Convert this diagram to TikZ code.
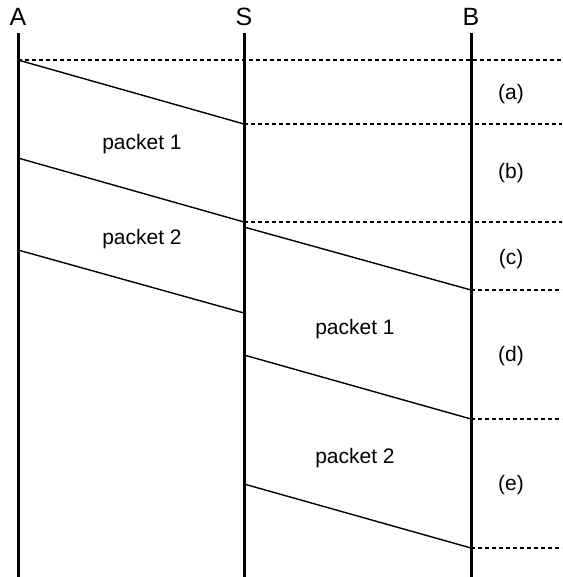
\documentclass[tikz,border=0pt]{standalone}
\usepackage{fontspec}
\setmainfont{Liberation Sans}
\usetikzlibrary{positioning}
\tikzset{
  lifeline/.style={line width=3pt},
  pktline/.style={line width=1.4pt},
  slotline/.style={line width=1.4pt, dash pattern=on 4pt off 3pt},
  hostlbl/.style={font=\fontsize{25}{29}\selectfont, inner sep=0pt, anchor=base},
  pktlbl/.style={font=\fontsize{21}{25}\selectfont, inner sep=0pt, anchor=base},
  slotlbl/.style={font=\fontsize{21}{25}\selectfont, inner sep=0pt}
}
\begin{document}
\begin{tikzpicture}[x=1pt,y=-1pt]
    \useasboundingbox (0,0) rectangle (562,577);

    % Hosts
    \node[hostlbl] (A) at (18,26) {A};
    \node[hostlbl] (S) at (244,26) {S};
    \node[hostlbl] (B) at (471,26) {B};

    \coordinate (Atop) at (18,33);  \coordinate (Abot) at (18,577);
    \coordinate (Stop) at (244,33); \coordinate (Sbot) at (244,577);
    \coordinate (Btop) at (471,33); \coordinate (Bbot) at (471,577);
    \draw[lifeline] (Atop) -- (Abot);
    \draw[lifeline] (Stop) -- (Sbot);
    \draw[lifeline] (Btop) -- (Bbot);

    % Time slots
    \coordinate (t0) at (18,60);   \coordinate (e0) at (562,60);
    \coordinate (t1) at (244,124); \coordinate (e1) at (562,124);
    \coordinate (t2) at (244,222); \coordinate (e2) at (562,222);
    \coordinate (t3) at (471,290); \coordinate (e3) at (562,290);
    \coordinate (t4) at (471,419); \coordinate (e4) at (562,419);
    \coordinate (t5) at (471,548); \coordinate (e5) at (562,548);
    \foreach \i in {0,...,5}
        \draw[slotline] (t\i) -- (e\i);

    % Packets A -> S
    \coordinate (a1) at (18,158); \coordinate (s1) at (244,222);
    \coordinate (a2) at (18,250); \coordinate (s2) at (244,313);
    \draw[pktline] (t0) -- (t1);
    \draw[pktline] (a1) -- (s1);
    \draw[pktline] (a2) -- (s2);

    % Packets S -> B
    \coordinate (s3) at (244,227);
    \coordinate (s4) at (244,355);
    \coordinate (s5) at (244,484);
    \draw[pktline] (s3) -- (t3);
    \draw[pktline] (s4) -- (t4);
    \draw[pktline] (s5) -- (t5);

    % Labels
    \node[pktlbl] (p1a) at (142,150) {packet 1};
    \node[pktlbl] (p2a) at (142,244) {packet 2};
    \node[pktlbl] (p1b) at (355,334) {packet 1};
    \node[pktlbl] (p2b) at (355,463) {packet 2};

    \node[slotlbl] (la) at (511,94) {(a)};
    \node[slotlbl] (lb) at (511,173) {(b)};
    \node[slotlbl] (lc) at (511,259) {(c)};
    \node[slotlbl] (ld) at (511,356) {(d)};
    \node[slotlbl] (le) at (511,485) {(e)};
\end{tikzpicture}
\end{document}
